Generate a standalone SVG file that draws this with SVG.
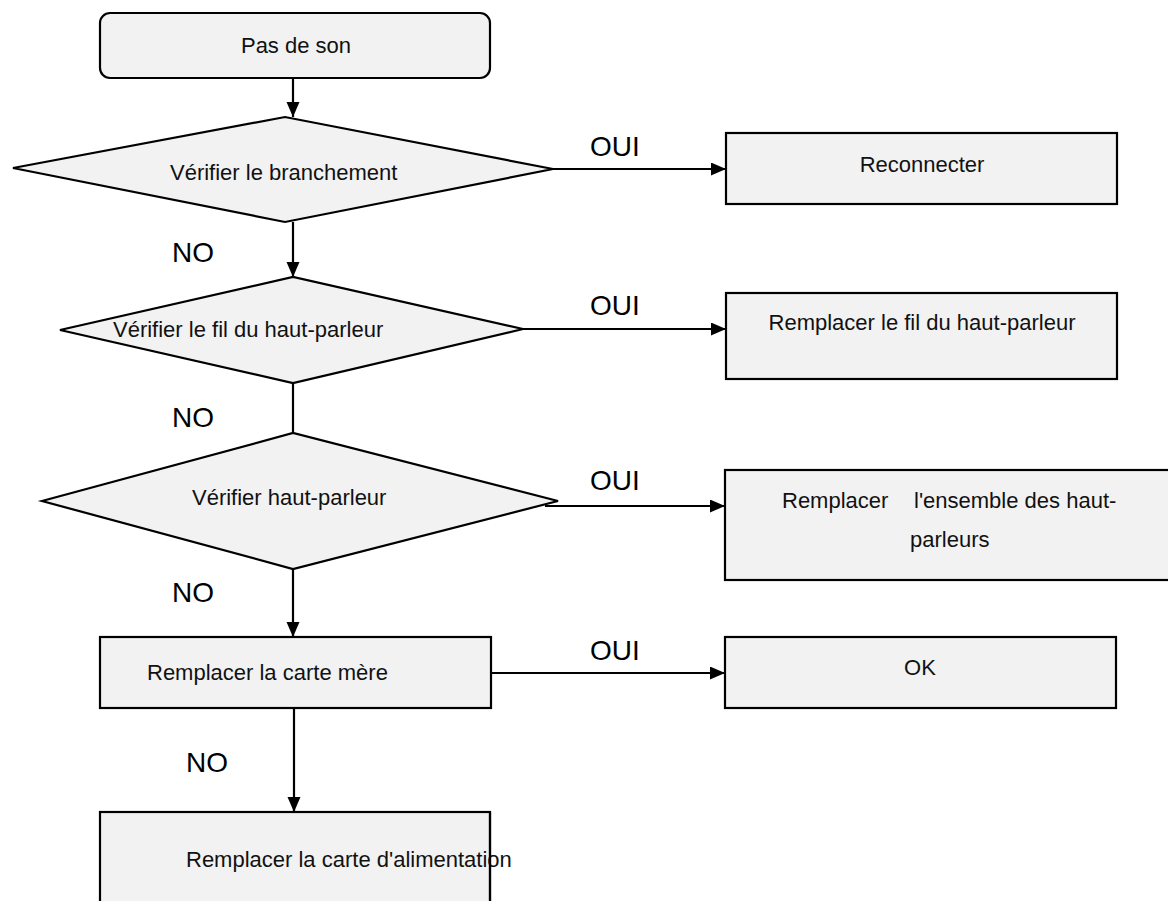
<svg xmlns="http://www.w3.org/2000/svg" width="1168" height="901" viewBox="0 0 1168 901">
<style>
.n{fill:#f2f2f2;stroke:#000;stroke-width:2.2}
.t{font-family:"Liberation Sans",Arial,sans-serif;font-size:22px;fill:#111}
.l{font-family:"Liberation Sans",Arial,sans-serif;font-size:28px;fill:#000}
.c{fill:none;stroke:#000;stroke-width:2.2}
</style>
<defs>
<marker id="ah" markerUnits="userSpaceOnUse" markerWidth="16" markerHeight="14" refX="15" refY="6.5" orient="auto">
<path d="M0,0 L15,6.5 L0,13 z" fill="#000"/>
</marker>
</defs>
<rect width="1168" height="901" fill="#fff"/>
<g id="start">
<rect class="n" x="100" y="13" width="390" height="65" rx="10"/>
<text class="t" x="296" y="53" text-anchor="middle">Pas de son</text>
</g>
<g id="d1">
<polygon class="n" points="13,168 285,117 553,169 285,222"/>
<text class="t" x="170" y="180">Vérifier le branchement</text>
</g>
<g id="d2">
<polygon class="n" points="60,330 293,277 523,329 293,383"/>
<text class="t" x="113" y="337">Vérifier le fil du haut-parleur</text>
</g>
<g id="d3">
<polygon class="n" points="42,501 293,433 558,501 293,569"/>
<text class="t" x="192" y="505">Vérifier haut-parleur</text>
</g>
<g id="b4">
<rect class="n" x="100" y="637" width="391" height="71"/>
<text class="t" x="147" y="680">Remplacer la carte mère</text>
</g>
<g id="b5">
<rect class="n" x="100" y="812" width="390" height="95"/>
<text class="t" x="186" y="867">Remplacer la carte d'alimentation</text>
<line x1="490" y1="812" x2="490" y2="901" stroke="#000" stroke-width="2.2"/>
</g>
<g id="r1">
<rect class="n" x="726" y="133" width="391" height="71"/>
<text class="t" x="922" y="172" text-anchor="middle">Reconnecter</text>
</g>
<g id="r2">
<rect class="n" x="726" y="293" width="391" height="86"/>
<text class="t" x="922" y="330" text-anchor="middle">Remplacer le fil du haut-parleur</text>
</g>
<g id="r3">
<rect class="n" x="725" y="470" width="450" height="110"/>
<text class="t" x="782" y="508">Remplacer</text>
<text class="t" x="914" y="508">l'ensemble des haut-</text>
<text class="t" x="910" y="547">parleurs</text>
</g>
<g id="r4">
<rect class="n" x="725" y="637" width="391" height="71"/>
<text class="t" x="920" y="675" text-anchor="middle">OK</text>
</g>
<g id="connectors">
<line class="c" x1="293" y1="78" x2="293" y2="117" marker-end="url(#ah)"/>
<line class="c" x1="293" y1="222" x2="293" y2="277" marker-end="url(#ah)"/>
<line class="c" x1="293" y1="383" x2="293" y2="433"/>
<line class="c" x1="293" y1="569" x2="293" y2="637" marker-end="url(#ah)"/>
<line class="c" x1="294" y1="708" x2="294" y2="812" marker-end="url(#ah)"/>
<line class="c" x1="553" y1="169" x2="726" y2="169" marker-end="url(#ah)"/>
<line class="c" x1="523" y1="329" x2="726" y2="329" marker-end="url(#ah)"/>
<line class="c" x1="545" y1="506" x2="725" y2="506" marker-end="url(#ah)"/>
<line class="c" x1="491" y1="673" x2="725" y2="673" marker-end="url(#ah)"/>
<text class="l" x="590" y="156">OUI</text>
<text class="l" x="590" y="315">OUI</text>
<text class="l" x="590" y="490">OUI</text>
<text class="l" x="590" y="660">OUI</text>
<text class="l" x="172" y="262">NO</text>
<text class="l" x="172" y="427">NO</text>
<text class="l" x="172" y="602">NO</text>
<text class="l" x="186" y="772">NO</text>
</g>
</svg>
